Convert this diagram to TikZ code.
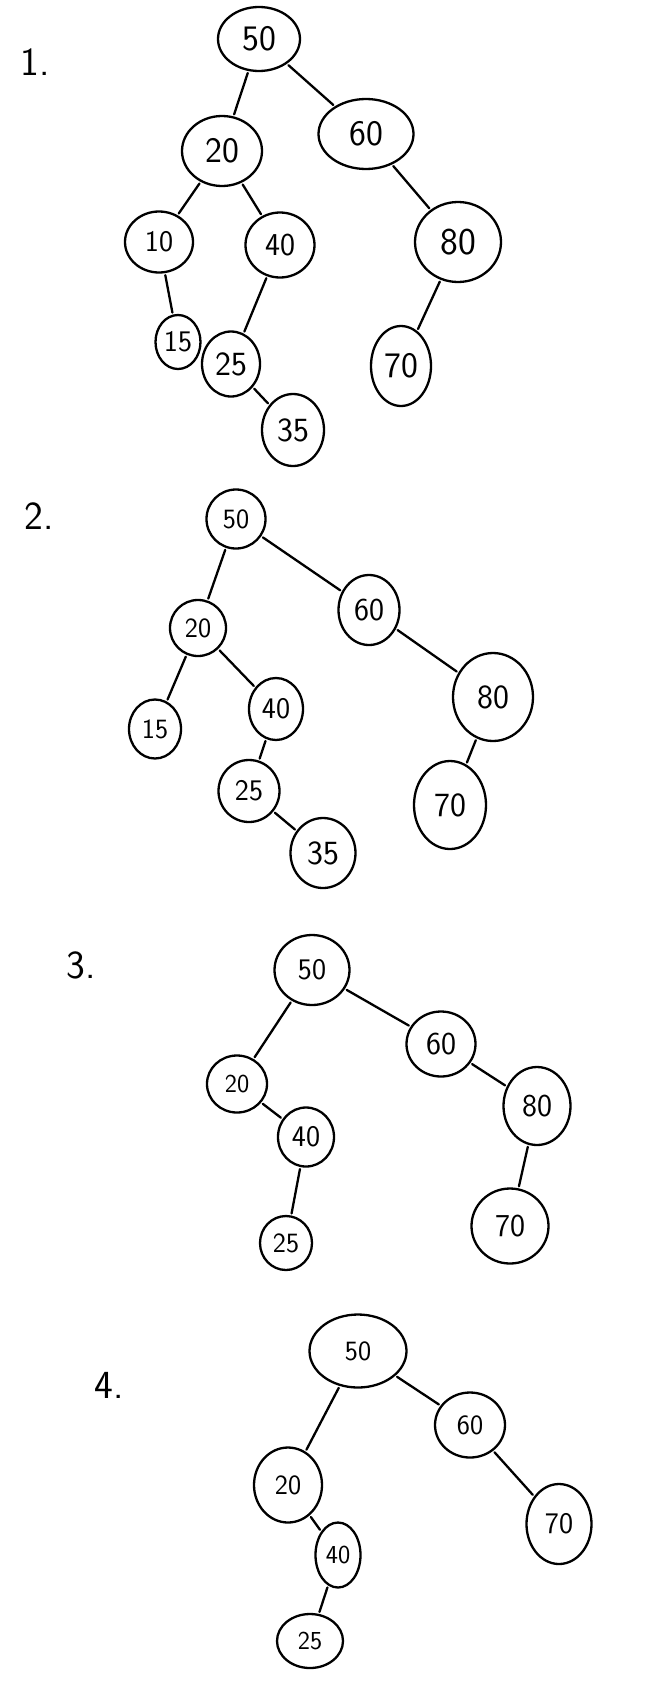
\documentclass[tikz,border=0pt]{standalone}
\usetikzlibrary{shapes.geometric}
\begin{document}
\begin{tikzpicture}[x=1bp,y=-1bp,
  line width=2.3bp, line cap=round,
  bst/.style={draw, ellipse, inner sep=0pt, font=\sffamily\fontsize{#1}{#1}\selectfont},
  bst/.default=30,
  lbl/.style={font=\sffamily\fontsize{40}{40}\selectfont, anchor=west},
  edge/.style={shorten >=2bp, shorten <=2bp}]
\useasboundingbox[fill=white] (0,0) rectangle (667,1688);

% --- tree 1 ---
\node[lbl] (l1) at (16,62) {1.};
\node[bst=36, minimum width=82bp, minimum height=64bp] (a50) at (259,39) {50};
\node[bst=36, minimum width=95bp, minimum height=70bp] (a60) at (366,134) {60};
\node[bst=36, minimum width=80bp, minimum height=70bp] (a20) at (222,151) {20};
\node[bst=30, minimum width=68bp, minimum height=61bp] (a10) at (159,242) {10};
\node[bst=32, minimum width=69bp, minimum height=65bp] (a40) at (280,245) {40};
\node[bst=38, minimum width=86bp, minimum height=80bp] (a80) at (458,242) {80};
\node[bst=30, minimum width=45bp, minimum height=54bp] (a15) at (178,342) {15};
\node[bst=34, minimum width=58bp, minimum height=65bp] (a25) at (231,364) {25};
\node[bst=36, minimum width=60bp, minimum height=80bp] (a70) at (401,366) {70};
\node[bst=34, minimum width=62bp, minimum height=72bp] (a35) at (293,430) {35};
\draw[edge] (a50) -- (a20);
\draw[edge] (a50) -- (a60);
\draw[edge] (a20) -- (a10);
\draw[edge] (a20) -- (a40);
\draw[edge] (a60) -- (a80);
\draw[edge] (a10) -- (a15);
\draw[edge] (a40) -- (a25);
\draw[edge] (a80) -- (a70);
\draw[edge] (a25) -- (a35);

% --- tree 2 ---
\node[lbl] (l2) at (20,516) {2.};
\node[bst=28, minimum width=59bp, minimum height=59bp] (b50) at (236,519) {50};
\node[bst=28, minimum width=56bp, minimum height=56bp] (b20) at (198,628) {20};
\node[bst=32, minimum width=61bp, minimum height=70bp] (b60) at (369,610) {60};
\node[bst=28, minimum width=52bp, minimum height=59bp] (b15) at (155,729) {15};
\node[bst=30, minimum width=54bp, minimum height=62bp] (b40) at (276,709) {40};
\node[bst=34, minimum width=80bp, minimum height=88bp] (b80) at (493,697) {80};
\node[bst=30, minimum width=61bp, minimum height=62bp] (b25) at (249,791) {25};
\node[bst=34, minimum width=72bp, minimum height=88bp] (b70) at (450,805) {70};
\node[bst=34, minimum width=65bp, minimum height=70bp] (b35) at (323,853) {35};
\draw[edge] (b50) -- (b20);
\draw[edge] (b50) -- (b60);
\draw[edge] (b20) -- (b15);
\draw[edge] (b20) -- (b40);
\draw[edge] (b60) -- (b80);
\draw[edge] (b40) -- (b25);
\draw[edge] (b80) -- (b70);
\draw[edge] (b25) -- (b35);

% --- tree 3 ---
\node[lbl] (l3) at (62,965) {3.};
\node[bst=30, minimum width=75bp, minimum height=70bp] (c50) at (312,970) {50};
\node[bst=26, minimum width=60bp, minimum height=57bp] (c20) at (237,1084) {20};
\node[bst=32, minimum width=69bp, minimum height=65bp] (c60) at (441,1044) {60};
\node[bst=30, minimum width=56bp, minimum height=59bp] (c40) at (306,1137) {40};
\node[bst=32, minimum width=67bp, minimum height=78bp] (c80) at (537,1106) {80};
\node[bst=28, minimum width=52bp, minimum height=54bp] (c25) at (286,1243) {25};
\node[bst=32, minimum width=77bp, minimum height=75bp] (c70) at (510,1226) {70};
\draw[edge] (c50) -- (c20);
\draw[edge] (c50) -- (c60);
\draw[edge] (c20) -- (c40);
\draw[edge] (c60) -- (c80);
\draw[edge] (c40) -- (c25);
\draw[edge] (c80) -- (c70);

% --- tree 4 ---
\node[lbl] (l4) at (90,1385) {4.};
\node[bst=28, minimum width=97bp, minimum height=73bp] (d50) at (358,1351) {50};
\node[bst=28, minimum width=68bp, minimum height=75bp] (d20) at (288,1485) {20};
\node[bst=28, minimum width=70bp, minimum height=65bp] (d60) at (470,1425) {60};
\node[bst=26, minimum width=45bp, minimum height=65bp] (d40) at (338,1555) {40};
\node[bst=30, minimum width=65bp, minimum height=80bp] (d70) at (559,1524) {70};
\node[bst=26, minimum width=66bp, minimum height=54bp] (d25) at (310,1641) {25};
\draw[edge] (d50) -- (d20);
\draw[edge] (d50) -- (d60);
\draw[edge] (d20) -- (d40);
\draw[edge] (d60) -- (d70);
\draw[edge] (d40) -- (d25);
\end{tikzpicture}
\end{document}
